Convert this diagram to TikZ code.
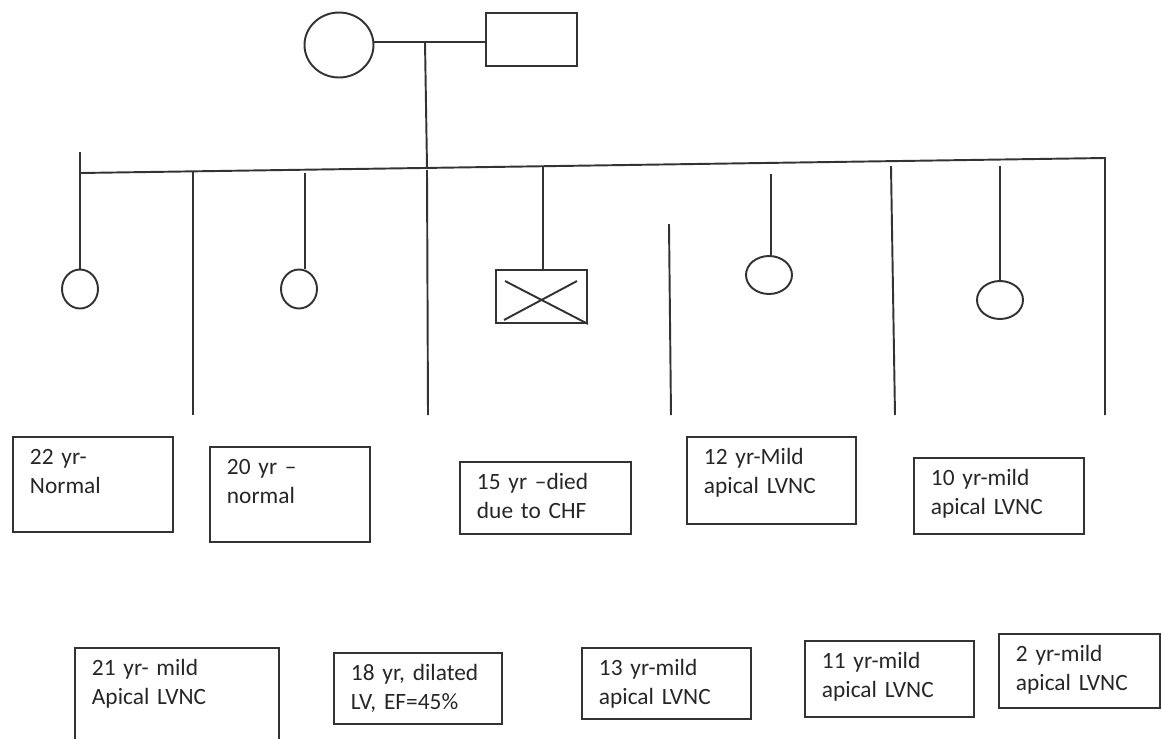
\documentclass[tikz,border=0pt]{standalone}
\usepackage{fontspec}
\setmainfont{Carlito}
\usetikzlibrary{shapes.geometric}
\tikzset{
  link/.style={draw, line width=1.1pt, black!80},
  person/.style={draw, line width=1.1pt, black!80, inner sep=0pt},
  infobox/.style={draw, line width=1.1pt, black!80, text=black!85, anchor=north west,
    align=left, inner xsep=0.34cm, inner ysep=0pt, text height=0.56cm,
    font=\fontsize{13.3}{16.5}\selectfont}
}
\begin{document}
\begin{tikzpicture}[x=0.02cm, y=-0.02cm]
    \useasboundingbox (0,0) rectangle (1161,738);
    \clip (0,0) rectangle (1161,738);

    % parents
    \node[person, ellipse, minimum width=1.38cm, minimum height=1.30cm] (mother) at (339,45) {};
    \node[person, rectangle, minimum width=1.82cm, minimum height=1.06cm] (father) at (531.5,39.5) {};
    \coordinate (mid) at (425,42);
    \coordinate (sibmid) at (427,167);
    \path[link] (mother.east |- mid) -- (father.west |- mid);
    \path[link] (mid) -- (sibmid);

    % sibship line
    \coordinate (sibL) at (80,173);
    \coordinate (sibR) at (1105,158);
    \coordinate (botR) at (1105,415);
    \path[link] (sibL) -- (sibR) -- (botR);

    % children
    \node[person, ellipse, minimum width=0.72cm, minimum height=0.78cm] (c22) at (80,289) {};
    \node[person, ellipse, minimum width=0.72cm, minimum height=0.78cm] (c20) at (299,289) {};
    \node[person, rectangle, minimum width=1.82cm, minimum height=1.06cm] (c15) at (541.5,296.5) {};
    \node[person, ellipse, minimum width=0.92cm, minimum height=0.76cm] (c12) at (769,275) {};
    \node[person, ellipse, minimum width=0.92cm, minimum height=0.76cm] (c10) at (1000,300) {};

    \coordinate (t22) at (80,152);
    \coordinate (t20) at (305,173);
    \coordinate (t15) at (543,167);
    \coordinate (t12) at (771,174);
    \coordinate (t10) at (1000,166);
    \path[link] (t22) -- (c22.north);
    \path[link] (t20) -- (t20 |- c20.north);
    \path[link] (t15) -- (t15 |- c15.north);
    \path[link] (t12) -- (t12 |- c12.north);
    \path[link] (t10) -- (c10.north);

    % deceased
    \path[link] ([shift={(10,12)}]c15.north west) -- (c15.south east);
    \path[link] ([shift={(9,-4)}]c15.south west) -- ([shift={(-11,12)}]c15.north east);

    % single lines
    \coordinate (a1) at (193,172);  \coordinate (b1) at (193,415);
    \coordinate (a2) at (427,170);  \coordinate (b2) at (428,415);
    \coordinate (a3) at (669,224);  \coordinate (b3) at (671,415);
    \coordinate (a4) at (891,166);  \coordinate (b4) at (895,415);
    \path[link] (a1) -- (b1);
    \path[link] (a2) -- (b2);
    \path[link] (a3) -- (b3);
    \path[link] (a4) -- (b4);

    % notes, upper row
    \node[infobox, text width=2.52cm, text depth=1.34cm] (n22) at (12,436) {22 yr-\\Normal};
    \node[infobox, text width=2.52cm, text depth=1.34cm] (n20) at (209,446) {20 yr –\\normal};
    \node[infobox, text width=2.74cm, text depth=0.88cm] (n15) at (459,461) {15 yr –died\\due to CHF};
    \node[infobox, text width=2.70cm, text depth=1.18cm] (n12) at (686,436) {12 yr-Mild\\apical LVNC};
    \node[infobox, text width=2.72cm, text depth=0.96cm] (n10) at (913,457) {10 yr-mild\\apical LVNC};

    % notes, lower row
    \node[infobox, text width=3.40cm, text depth=1.70cm] (n21) at (74,647) {21 yr- mild\\Apical LVNC};
    \node[infobox, text width=2.68cm, text depth=0.86cm] (n18) at (333,652) {18 yr, dilated\\LV, EF=45\%};
    \node[infobox, text width=2.70cm, text depth=0.86cm] (n13) at (581,647) {13 yr-mild\\apical LVNC};
    \node[infobox, text width=2.70cm, text depth=0.96cm] (n11) at (804,640) {11 yr-mild\\apical LVNC};
    \node[infobox, text width=2.54cm, text depth=0.92cm] (n2) at (998,633) {2 yr-mild\\apical LVNC};
\end{tikzpicture}
\end{document}
